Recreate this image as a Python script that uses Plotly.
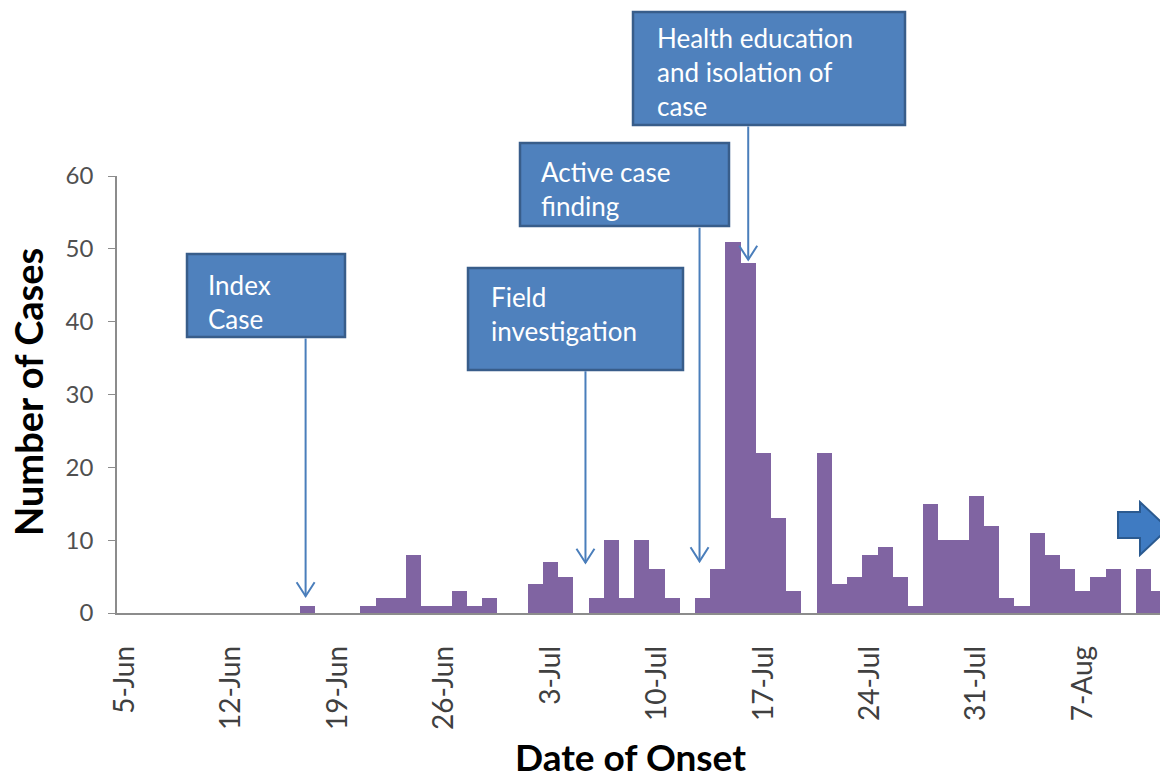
import pandas as pd
import plotly.graph_objects as go

# ---------------- data ----------------
start_date = "2014-06-05"
cases = [0, 0, 0, 0, 0, 0, 0, 0, 0, 0, 0, 0,      # 5-Jun .. 16-Jun
         1, 0, 0, 0, 1, 2, 2, 8, 1, 1, 3, 1, 2,   # 17-Jun .. 29-Jun
         0, 0, 4, 7, 5, 0, 2, 10, 2, 10, 6, 2,    # 30-Jun .. 11-Jul
         0, 2, 6, 51, 48, 22, 13, 3, 0, 22, 4, 5, # 12-Jul .. 23-Jul
         8, 9, 5, 1, 15, 10, 10, 16, 12, 2, 1,    # 24-Jul .. 3-Aug
         11, 8, 6, 3, 5, 6, 0, 6, 3]              # 4-Aug .. 12-Aug
dates = pd.date_range(start_date, periods=len(cases), freq="D")

box_texts = ["Index<br>Case",
             "Field<br>investigation",
             "Active case<br>finding",
             "Health education<br>and isolation of<br>case"]
# arrow: day offset from start, head value, tail value
arrow_day = [11.9, 30.3, 37.8, 41.0]
arrow_head = [2.3, 6.9, 7.1, 48.5]
arrow_tail = [37.9, 33.4, 53.1, 67.0]

y_title = "Number of Cases"
x_title = "Date of Onset"

# ---------------- layout geometry (pixels) ----------------
W, H = 1160, 780
L, R, T, B = 117, 0, 176, 167
PW = W - L - R
PH = H - T - B
YMAX = 60
day_px = 15.21
x0 = pd.Timestamp(start_date) - pd.Timedelta(hours=12)
x1 = x0 + pd.Timedelta(days=PW / day_px)


def px(x):
    return (x - L) / PW


def py(y):
    return (H - B - y) / PH


FONT = "Lato"
BOX_FILL = "#4F81BD"
BOX_LINE = "#385D8A"
ARROW = "#4A7EBB"

fig = go.Figure()
fig.add_trace(go.Bar(x=dates, y=cases, marker=dict(color="#8064A2", line=dict(width=0)),
                     showlegend=False))

# boxes (pixel rectangles)
boxes = [(187, 254, 345, 337), (468, 268, 683, 370), (520, 143, 729, 226), (633, 12, 905, 125)]
text_pos = [(206, 301.5), (489, 313.5), (539, 189), (655, 72)]
shapes = []
annotations = []
for (bx0, by0, bx1, by1), (tx, ty), txt in zip(boxes, text_pos, box_texts):
    shapes.append(dict(type="rect", xref="paper", yref="paper",
                       x0=px(bx0), x1=px(bx1), y0=py(by1), y1=py(by0),
                       fillcolor=BOX_FILL, line=dict(color=BOX_LINE, width=2.5), layer="above"))
    annotations.append(dict(xref="paper", yref="paper", x=px(tx), y=py(ty),
                            xanchor="left", yanchor="middle", align="left",
                            text=txt, showarrow=False,
                            font=dict(family=FONT, size=26, color="white")))

for d, hv, tv in zip(arrow_day, arrow_head, arrow_tail):
    xd = x0 + pd.Timedelta(days=d + 0.5)
    annotations.append(dict(x=xd, y=hv, ax=xd, ay=tv, xref="x", yref="y",
                            axref="x", ayref="y", text="", showarrow=True,
                            arrowhead=0, arrowwidth=2,
                            arrowcolor=ARROW, standoff=0))
    # open V arrow head
    hx = L + (d + 0.5) * day_px
    hy = H - B - hv * PH / YMAX
    vpath = (f"M {px(hx - 9):.5f},{py(hy - 14):.5f} L {px(hx):.5f},{py(hy):.5f} "
             f"L {px(hx + 9):.5f},{py(hy - 14):.5f}")
    shapes.append(dict(type="path", xref="paper", yref="paper", path=vpath,
                       line=dict(color=ARROW, width=2), layer="above"))

# block arrow at right
pts = [(1118, 512), (1140, 512), (1140, 502), (1168, 528.5), (1140, 555), (1140, 538), (1118, 538)]
path = "M " + " L ".join(f"{px(a):.5f},{py(b):.5f}" for a, b in pts) + " Z"
shapes.append(dict(type="path", xref="paper", yref="paper", path=path,
                   fillcolor="#3F7BC2", line=dict(color="#2B5A90", width=2), layer="above"))

annotations.append(dict(xref="paper", yref="paper", x=px(28), y=py(392), text=y_title,
                        textangle=-90, showarrow=False, xanchor="center", yanchor="middle",
                        font=dict(family=FONT, size=38, color="black", weight="bold")))
annotations.append(dict(xref="paper", yref="paper", x=px(630), y=py(756), text=x_title,
                        showarrow=False, xanchor="center", yanchor="middle",
                        font=dict(family=FONT, size=37, color="black", weight="bold")))

fig.update_layout(
    width=W, height=H,
    margin=dict(l=L, r=R, t=T, b=B, pad=0),
    paper_bgcolor="white", plot_bgcolor="white",
    bargap=0,
    shapes=shapes, annotations=annotations,
    xaxis=dict(type="date", range=[x0, x1], tick0=start_date, dtick=7 * 86400000,
               tickformat="%-d-%b", tickangle=-90, showgrid=False, zeroline=False,
               showline=True, linecolor="#8C8C8C", linewidth=1.5, ticks="",
               ticklabelstandoff=20,
               tickfont=dict(family=FONT, size=28, color="#404040")),
    yaxis=dict(range=[0, YMAX], dtick=10, showgrid=False, zeroline=False,
               showline=True, linecolor="#8C8C8C", linewidth=1.5, ticks="outside",
               ticklen=7, tickcolor="#8C8C8C", ticklabelstandoff=10,
               tickfont=dict(family=FONT, size=24, color="#505050")),
)

fig.write_html("out.html", config={"displayModeBar": False},
               post_script="document.body.style.margin='0';document.body.style.overflow='hidden';")
